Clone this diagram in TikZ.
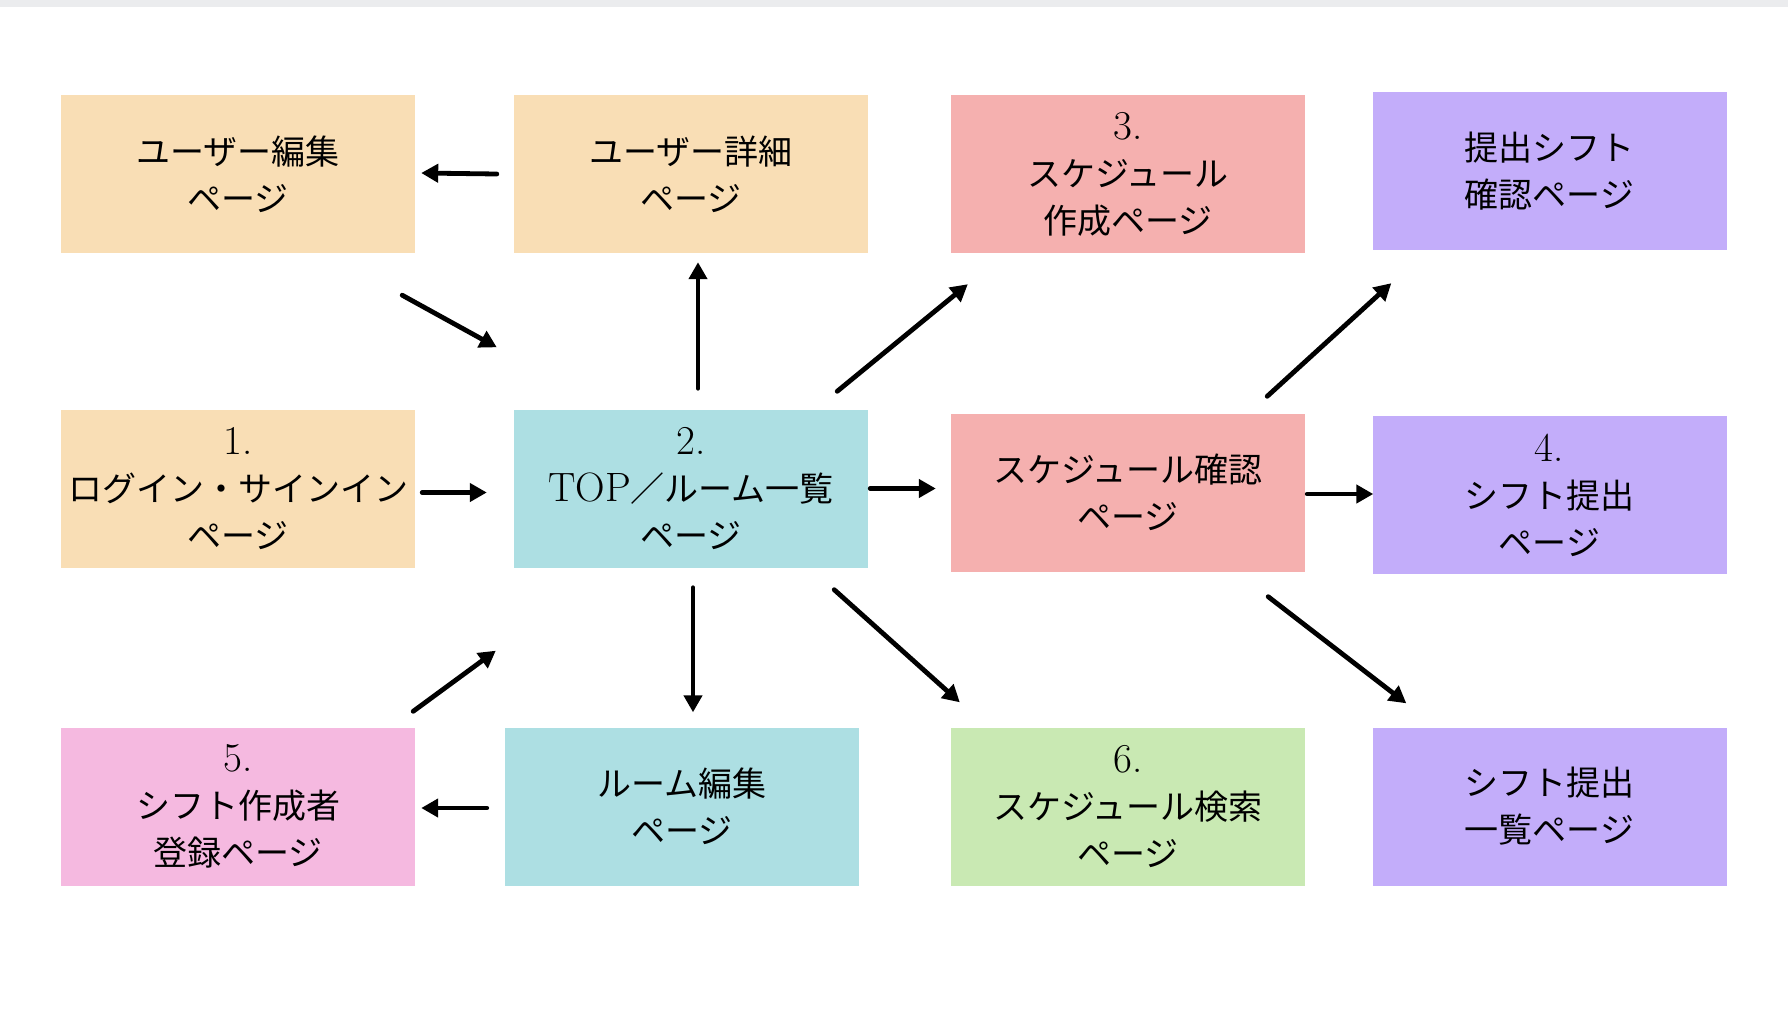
\documentclass[tikz,border=0pt]{standalone}
\usepackage{fontspec}
\newfontfamily\cjk{Noto Sans CJK JP}
\usetikzlibrary{calc,arrows.meta}
\definecolor{peach}{HTML}{F9DEB5}
\definecolor{aqua}{HTML}{ADDFE3}
\definecolor{salmon}{HTML}{F5B0AF}
\definecolor{lilac}{HTML}{C3ADFA}
\definecolor{rosa}{HTML}{F5B9E0}
\definecolor{mint}{HTML}{C9E9B3}
\definecolor{bar}{HTML}{EBECEE}
\newcommand{\latn}[1]{{\rmfamily\fontsize{41}{47}\selectfont #1}}
\tikzset{
  page/.style={minimum width=354pt, minimum height=158pt, inner sep=0pt,
    align=center, font=\fontsize{34}{47}\selectfont\cjk},
  arr/.style={line width=4.8pt, line cap=round, -{Triangle[length=17pt,width=18pt]}}
}

\begin{document}
\begin{tikzpicture}[x=1pt,y=-1pt]
     \useasboundingbox (0,0) rectangle (1788,1010);
     \fill[bar] (0,0) rectangle (1788,7);
     \node[page,fill=peach]  (useredit)    at ( 238.0, 174.0) {ユーザー編集\\ページ};
     \node[page,fill=peach]  (userdetail)  at ( 691.0, 174.0) {ユーザー詳細\\ページ};
     \node[page,fill=salmon] (schedmake)   at (1128.0, 174.0) {\latn{3.}\\スケジュール\\作成ページ};
     \node[page,fill=lilac]  (shiftcheck)  at (1549.5, 171.0) {提出シフト\\確認ページ};
     \node[page,fill=peach]  (login)       at ( 238.0, 488.5) {\latn{1.}\\ログイン・サインイン\\ページ};
     \node[page,fill=aqua]   (top)         at ( 691.0, 488.5) {\latn{2.}\\\latn{TOP}／ルーム一覧\\ページ};
     \node[page,fill=salmon] (schedview)   at (1128.0, 492.5) {スケジュール確認\\ページ};
     \node[page,fill=lilac]  (shiftsubmit) at (1549.5, 495.0) {\latn{4.}\\シフト提出\\ページ};
     \node[page,fill=rosa]   (register)    at ( 238.0, 806.5) {\latn{5.}\\シフト作成者\\登録ページ};
     \node[page,fill=aqua]   (roomedit)    at ( 682.0, 806.5) {ルーム編集\\ページ};
     \node[page,fill=mint]   (schedsearch) at (1128.0, 806.5) {\latn{6.}\\スケジュール検索\\ページ};
     \node[page,fill=lilac]  (shiftlist)   at (1549.5, 806.5) {シフト提出\\一覧ページ};
     \draw[arr] ($(userdetail.west)+(-17,0)$)      -- ($(useredit.east)+(6,-1)$);
     \draw[arr] ($(useredit.south east)+(-13,42)$) -- ($(top.north west)+(-17,-62)$);
     \draw[arr] ($(top.north)+(7,-21)$)            -- ($(userdetail.south)+(7,9)$);
     \draw[arr] ($(top.north east)+(-31,-18)$)     -- ($(schedmake.south west)+(17,31)$);
     \draw[arr] ($(login.east)+(7,4)$)             -- ($(top.west)+(-27,4)$);
     \draw[arr] ($(top.east)+(2,0)$)               -- ($(schedview.west)+(-15,-4)$);
     \draw[arr] ($(schedview.north east)+(-38,-17)$) -- ($(shiftcheck.south west)+(19,33)$);
     \draw[arr] ($(schedview.east)+(2,1.5)$)       -- ($(shiftsubmit.west)+(1,-1)$);
     \draw[arr] ($(top.south)+(2,20)$)             -- ($(roomedit.north)+(11,-15)$);
     \draw[arr] ($(top.south east)+(-34,22)$)      -- ($(schedsearch.north west)+(9,-25)$);
     \draw[arr] ($(schedview.south east)+(-37,25)$) -- ($(shiftlist.north west)+(34,-24)$);
     \draw[arr] ($(register.north east)+(-2,-16)$) -- ($(top.south west)+(-18,83)$);
     \draw[arr] ($(roomedit.west)+(-18,1.5)$)      -- ($(register.east)+(6,1.5)$);
\end{tikzpicture}
\end{document}
